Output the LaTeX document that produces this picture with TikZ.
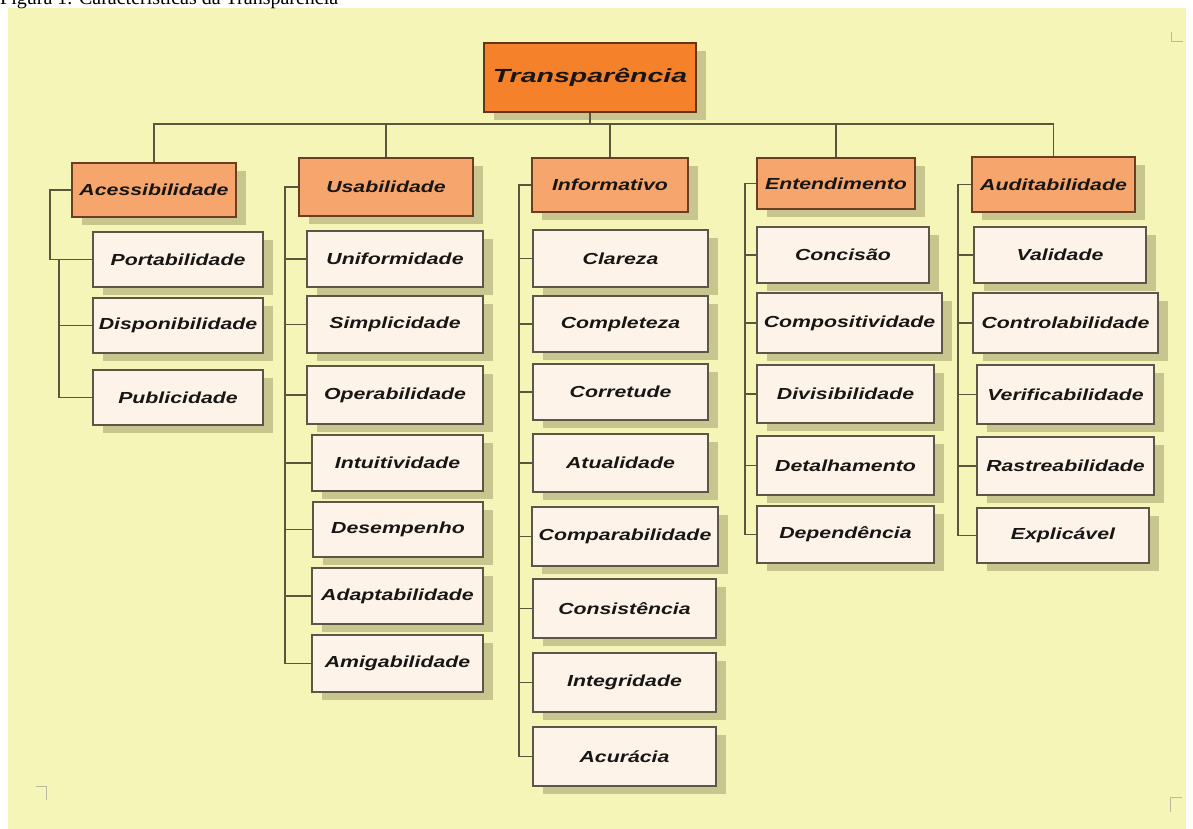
\documentclass[tikz,border=0pt]{standalone}
\usepackage{fontspec}
\usetikzlibrary{shadows}
\newfontfamily\lblfont[FakeStretch=1.33]{Liberation Sans}
\newfontfamily\ttlfont[FakeStretch=1.5]{Liberation Sans}
\newfontfamily\capfont{Liberation Serif}

\definecolor{paper}{RGB}{246,245,184}
\definecolor{shade}{RGB}{200,197,142}
\definecolor{ink}{RGB}{24,22,20}
\definecolor{titlefill}{RGB}{245,130,42}
\definecolor{titleline}{RGB}{100,52,28}
\definecolor{catfill}{RGB}{246,166,108}
\definecolor{catline}{RGB}{105,62,36}
\definecolor{leaffill}{RGB}{253,243,233}
\definecolor{leafline}{RGB}{92,86,72}
\definecolor{linkc}{RGB}{88,86,60}
\definecolor{cropc}{RGB}{185,185,160}

\tikzset{
  box/.style={draw, line width=2pt, inner sep=0pt, text=ink,
    drop shadow={shadow xshift=10pt, shadow yshift=-8pt, fill=shade, opacity=1}},
  titlebox/.style={box, fill=titlefill, draw=titleline, line width=2.4pt,
    font=\ttlfont\bfseries\itshape\fontsize{19}{22}\selectfont},
  catbox/.style={box, fill=catfill, draw=catline,
    font=\lblfont\bfseries\itshape\fontsize{16}{19}\selectfont},
  leafbox/.style={box, fill=leaffill, draw=leafline,
    font=\lblfont\bfseries\itshape\fontsize{16}{19}\selectfont},
  link/.style={draw=linkc, line width=1.5pt},
  cropmark/.style={draw=cropc, line width=1pt},
}

% box from its corners: style, name, x1, y1, x2, y2, text
\newcommand\bx[7]{%
  \node[#1, minimum width={(#5-#3)*1pt}, minimum height={(#6-#4)*1pt}]
    (#2) at ({(#3+#5)/2},{(#4+#6)/2}) {#7};}

\begin{document}
\begin{tikzpicture}[x=1pt, y=-1pt]
\useasboundingbox (0,0) rectangle (1193,829);
\fill[white] (0,0) rectangle (1193,829);
\fill[paper] (8,8) rectangle (1186,829);

% caption line, cut by the page edge
\begin{scope}
  \clip (0,0) rectangle (1193,829);
  \node[anchor=base west, inner sep=0pt, text=black,
        font=\capfont\fontsize{20}{22}\selectfont] (cap) at (0,5)
        {Figura 1. Características da Transparência};
\end{scope}

% crop marks
\draw[cropmark] (1171,32) -- (1171,42) -- (1183,42);
\draw[cropmark] (1182,797) -- (1170,797) -- (1170,812);
\draw[cropmark] (36,786) -- (46,786) -- (46,800);

% root
\bx{titlebox}{ttl}{484}{43}{696}{112}{Transparência}

% categories
\bx{catbox}{acc}{72}{163}{236}{217}{Acessibilidade}
\bx{catbox}{usa}{299}{158}{473}{216}{Usabilidade}
\bx{catbox}{inf}{532}{158}{688}{212}{Informativo}
\bx{catbox}{ent}{757}{158}{915}{209}{Entendimento}
\bx{catbox}{aud}{972}{157}{1135}{212}{Auditabilidade}

% Acessibilidade
\bx{leafbox}{port}{93}{232}{263}{287}{Portabilidade}
\bx{leafbox}{disp}{93}{298}{263}{353}{Disponibilidade}
\bx{leafbox}{publ}{93}{370}{263}{425}{Publicidade}

% Usabilidade
\bx{leafbox}{unif}{307}{231}{483}{287}{Uniformidade}
\bx{leafbox}{simp}{307}{296}{483}{353}{Simplicidade}
\bx{leafbox}{oper}{307}{366}{483}{424}{Operabilidade}
\bx{leafbox}{intu}{312}{435}{483}{491}{Intuitividade}
\bx{leafbox}{dese}{313}{502}{483}{557}{Desempenho}
\bx{leafbox}{adap}{312}{568}{483}{624}{Adaptabilidade}
\bx{leafbox}{amig}{312}{635}{483}{692}{Amigabilidade}

% Informativo
\bx{leafbox}{clar}{533}{230}{708}{287}{Clareza}
\bx{leafbox}{cplt}{533}{296}{708}{352}{Completeza}
\bx{leafbox}{corr}{533}{364}{708}{420}{Corretude}
\bx{leafbox}{atua}{533}{434}{708}{492}{Atualidade}
\bx{leafbox}{cmpr}{532}{507}{718}{566}{Comparabilidade}
\bx{leafbox}{cons}{533}{579}{716}{638}{Consistência}
\bx{leafbox}{inte}{533}{653}{716}{712}{Integridade}
\bx{leafbox}{acur}{533}{727}{716}{786}{Acurácia}

% Entendimento
\bx{leafbox}{conc}{757}{227}{929}{283}{Concisão}
\bx{leafbox}{cmps}{757}{293}{942}{353}{Compositividade}
\bx{leafbox}{divi}{757}{365}{934}{423}{Divisibilidade}
\bx{leafbox}{deta}{757}{436}{934}{495}{Detalhamento}
\bx{leafbox}{depe}{757}{506}{934}{563}{Dependência}

% Auditabilidade
\bx{leafbox}{vali}{974}{227}{1146}{283}{Validade}
\bx{leafbox}{ctrl}{973}{293}{1158}{353}{Controlabilidade}
\bx{leafbox}{veri}{977}{365}{1154}{424}{Verificabilidade}
\bx{leafbox}{rast}{977}{437}{1154}{495}{Rastreabilidade}
\bx{leafbox}{expl}{977}{508}{1149}{563}{Explicável}

% connector rails
\coordinate (bus) at (0,124);
\coordinate (accA) at (50,0);
\coordinate (accB) at (59,0);
\coordinate (usaR) at (285,0);
\coordinate (infR) at (519,0);
\coordinate (entR) at (745,0);
\coordinate (audR) at (958,0);

% root to categories
\draw[link] (ttl.south) -- (ttl.south |- bus);
\draw[link] (acc.north) -- (acc.north |- bus) -- (aud.north |- bus) -- (aud.north);
\foreach \c in {usa,inf,ent}
  \draw[link] (\c.north |- bus) -- (\c.north);

% Acessibilidade branch
\draw[link] (acc.west) -| (accA |- port.west) -- (port.west);
\draw[link] (accB |- port.west) -- (accB |- publ.west) -- (publ.west);
\draw[link] (accB |- disp.west) -- (disp.west);

% Usabilidade branch
\draw[link] (usa.west) -| (usaR |- amig.west) -- (amig.west);
\foreach \c in {unif,simp,oper,intu,dese,adap}
  \draw[link] (usaR |- \c.west) -- (\c.west);

% Informativo branch
\draw[link] (inf.west) -| (infR |- acur.west) -- (acur.west);
\foreach \c in {clar,cplt,corr,atua,cmpr,cons,inte}
  \draw[link] (infR |- \c.west) -- (\c.west);

% Entendimento branch
\draw[link] (ent.west) -| (entR |- depe.west) -- (depe.west);
\foreach \c in {conc,cmps,divi,deta}
  \draw[link] (entR |- \c.west) -- (\c.west);

% Auditabilidade branch
\draw[link] (aud.west) -| (audR |- expl.west) -- (expl.west);
\foreach \c in {vali,ctrl,veri,rast}
  \draw[link] (audR |- \c.west) -- (\c.west);
\end{tikzpicture}
\end{document}
